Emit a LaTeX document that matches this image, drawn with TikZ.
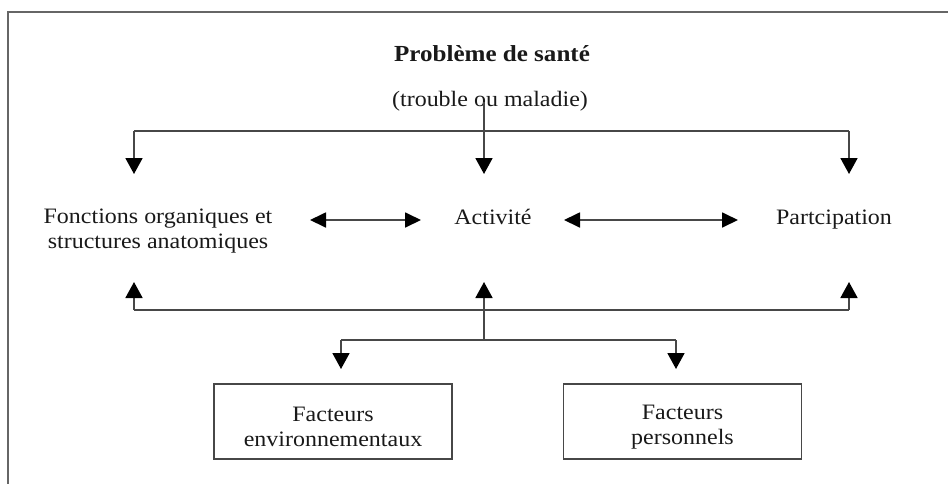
\documentclass[tikz,border=0pt]{standalone}
\usepackage{fontspec}
\setmainfont{Liberation Serif}[FakeStretch=1.09]
\usetikzlibrary{arrows.meta}
\begin{document}
\begin{tikzpicture}[x=1pt,y=-1pt,
  conn/.style={line width=1.8pt, draw=black!72},
  tipd/.style={-{Triangle[length=16pt,width=17pt,color=black]}},
  dtip/.style={{Triangle[length=16pt,width=15pt,color=black]}-{Triangle[length=16pt,width=15pt,color=black]}},
  lbl/.style={font=\fontsize{22}{25}\selectfont, text=black!90, inner sep=0pt, align=center},
  boxn/.style={draw=black!72, line width=1.8pt, minimum width=238pt, minimum height=75pt, inner sep=0pt}
]
\useasboundingbox (0,0) rectangle (948,483);
% frame
\draw[line width=1.5pt, draw=black!60] (8,490) -- (8,12) -- (955,12);

% texts
\node[lbl, font=\fontsize{23}{26}\selectfont\bfseries, anchor=base] (prob) at (492,61) {Problème de santé};
\node[lbl, anchor=base] (trouble) at (490,106) {(trouble ou maladie)};
\node[lbl] (fonc) at (158,231) {Fonctions organiques et\\structures anatomiques};
\node[lbl, anchor=base] (act) at (493,224) {Activité};
\node[lbl, anchor=base] (part) at (834,224) {Partcipation};

% boxes
\node[boxn] (env) at (333,421.5) {};
\node[lbl] (envt) at (333,427) {Facteurs\\environnementaux};
\node[boxn] (pers) at (682.5,421.5) {};
\node[lbl] (perst) at (682.5,427) {Facteurs\\personnels};

% coordinates
\coordinate (src) at (484,102);
\coordinate (jt) at (484,131);
\coordinate (tl) at (134,131);
\coordinate (tr) at (849,131);
\coordinate (al) at (134,174);
\coordinate (am) at (484,174);
\coordinate (ar) at (849,174);
\coordinate (bl) at (134,310);
\coordinate (bm) at (484,310);
\coordinate (br) at (849,310);
\coordinate (ul) at (134,282);
\coordinate (um) at (484,282);
\coordinate (ur) at (849,282);
\coordinate (jb) at (484,340);
\coordinate (jl) at (341,340);
\coordinate (jr) at (676,340);
\coordinate (dl) at (341,369);
\coordinate (dr) at (676,369);
\coordinate (h1a) at (310,220);
\coordinate (h1b) at (421,220);
\coordinate (h2a) at (564,220);
\coordinate (h2b) at (738,220);

% top connectors
\draw[conn] (src) -- (jt);
\draw[conn] (tl) -- (tr);
\draw[conn, tipd] (tl) -- (al);
\draw[conn, tipd] (jt) -- (am);
\draw[conn, tipd] (tr) -- (ar);

% horizontal double arrows
\draw[conn, dtip] (h1a) -- (h1b);
\draw[conn, dtip] (h2a) -- (h2b);

% bottom connectors
\draw[conn] (bl) -- (br);
\draw[conn, tipd] (bl) -- (ul);
\draw[conn, tipd] (bm) -- (um);
\draw[conn, tipd] (br) -- (ur);
\draw[conn] (bm) -- (jb);
\draw[conn] (jl) -- (jr);
\draw[conn, tipd] (jl) -- (dl);
\draw[conn, tipd] (jr) -- (dr);
\end{tikzpicture}
\end{document}
